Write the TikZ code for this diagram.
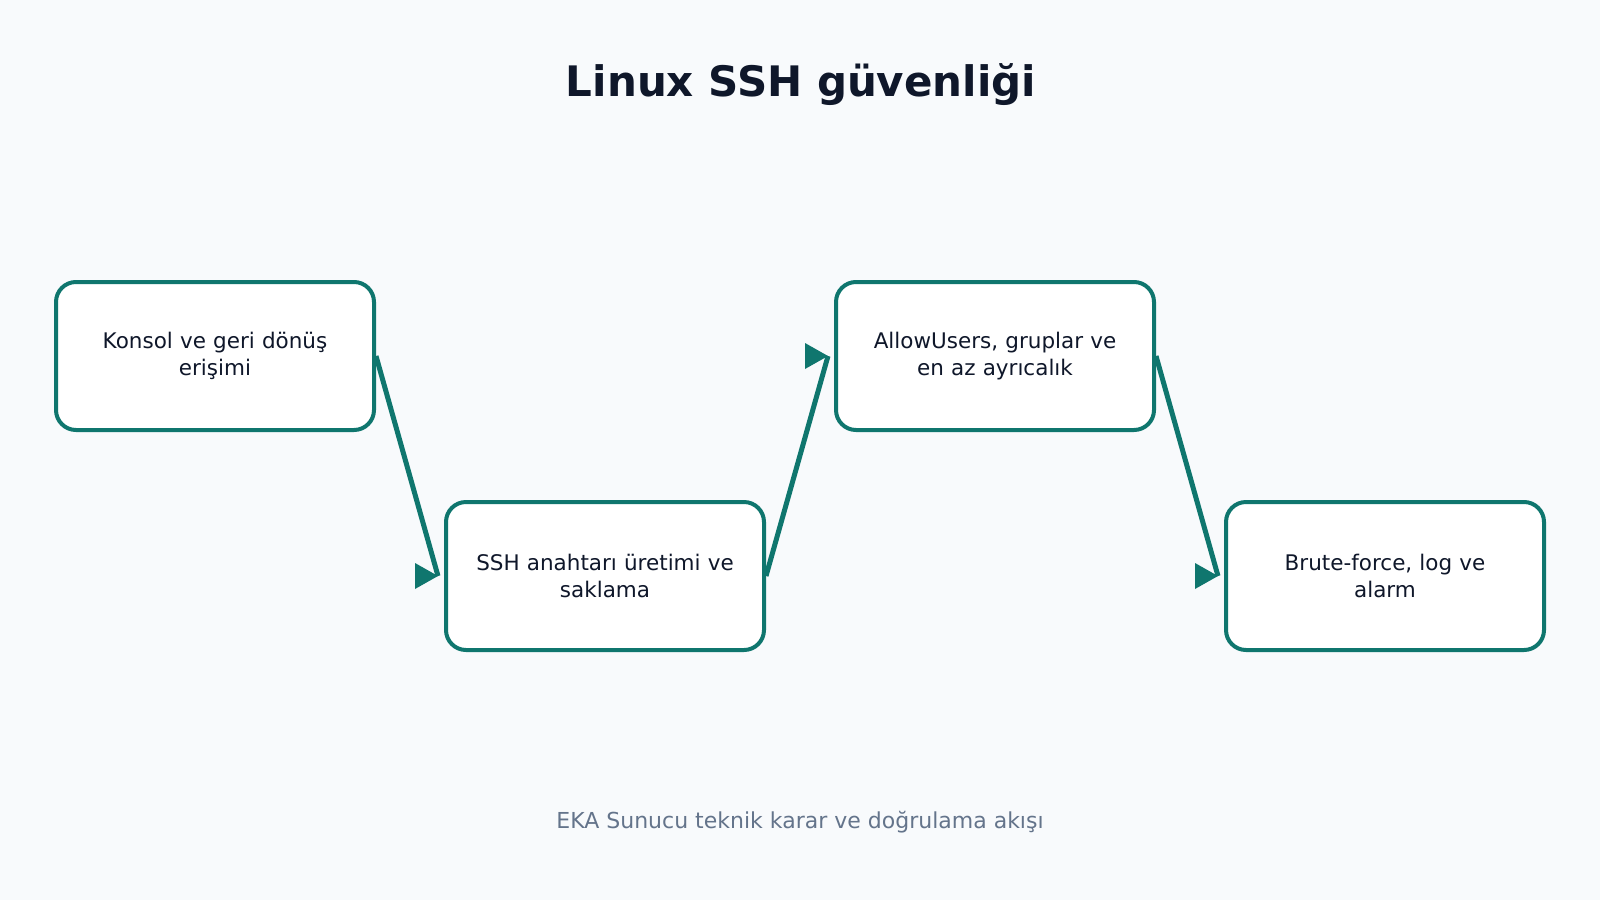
\documentclass[tikz,border=0pt]{standalone}
\usepackage{fontspec}
\setmainfont{DejaVu Sans}
\definecolor{bgc}{HTML}{F8FAFC}
\definecolor{teal}{HTML}{0F766E}
\definecolor{ink}{HTML}{0F172A}
\definecolor{muted}{HTML}{64748B}
\tikzset{
  stepbox/.style={draw=teal, line width=4pt, fill=white, rounded corners=20pt,
    minimum width=318pt, minimum height=148pt, inner sep=0pt,
    text width=300pt, align=center, text=ink,
    font=\fontsize{21.5pt}{27.5pt}\selectfont},
  flow/.style={draw=teal, line width=5pt},
  headfill/.style={fill=teal}
}
\newcommand{\hhead}[1]{\fill[headfill] (#1) -- ++(-23pt,13pt) -- ++(0,-26pt) -- cycle;}
\begin{document}
\begin{tikzpicture}[x=1pt,y=-1pt]
\fill[bgc] (0,0) rectangle (1600,900);
\useasboundingbox (0,0) rectangle (1600,900);
\node[font=\fontsize{42pt}{50pt}\selectfont\bfseries, text=ink, anchor=base] (title) at (801,96) {Linux SSH güvenliği};
\node[stepbox] (b1) at (215,356) {Konsol ve geri dönüş\\erişimi};
\node[stepbox] (b2) at (605,576) {SSH anahtarı üretimi ve\\saklama};
\node[stepbox] (b3) at (995,356) {AllowUsers, gruplar ve\\en az ayrıcalık};
\node[stepbox] (b4) at (1385,576) {Brute-force, log ve\\alarm};
\node[font=\fontsize{22pt}{26pt}\selectfont, text=muted, anchor=base] (foot) at (800,828) {EKA Sunucu teknik karar ve doğrulama akışı};
\coordinate (e1) at ([xshift=-6pt]b2.west);
\coordinate (e2) at ([xshift=-6pt]b3.west);
\coordinate (e3) at ([xshift=-6pt]b4.west);
\draw[flow] (b1.east) -- (e1);
\draw[flow] (b2.east) -- (e2);
\draw[flow] (b3.east) -- (e3);
\hhead{e1}
\hhead{e2}
\hhead{e3}
\end{tikzpicture}
\end{document}
